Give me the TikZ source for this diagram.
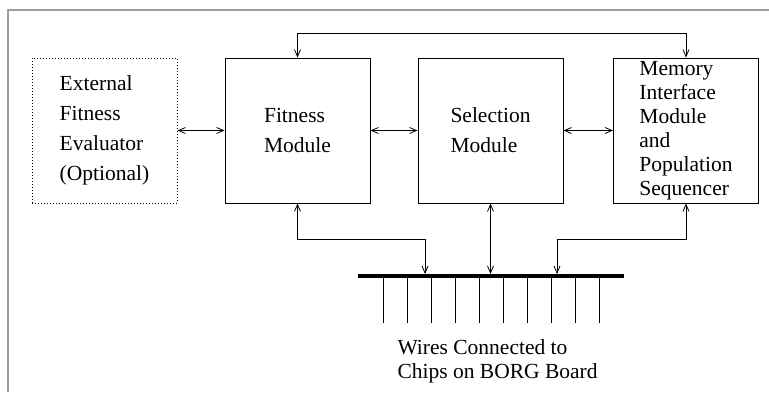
\documentclass[tikz,border=0pt]{standalone}
\usepackage{fontspec}
\setmainfont{Liberation Serif}
\usetikzlibrary{arrows.meta, positioning, calc}

\tikzset{
  module/.style={draw, line width=0.9pt, minimum width=145pt, minimum height=145pt,
    inner sep=0pt, align=left, font=\fontsize{21.5}{30}\selectfont},
  link/.style={line width=0.8pt,
    {Straight Barb[length=7pt,width=6pt]}-{Straight Barb[length=7pt,width=6pt]}},
  buswire/.style={line width=0.7pt},
}

\begin{document}
\begin{tikzpicture}[x=1pt,y=-1pt]
  \useasboundingbox (0,0) rectangle (769,392);
  % frame
  \draw[gray!75, line width=1.5pt] (8,392) -- (8,10) -- (769,10);

  \node[module, dash pattern=on 1pt off 2pt] (ext) at (104.5,130.5)
    {External\\Fitness\\Evaluator\\(Optional)};
  \node[module] (fit) at (297.5,130.5) {Fitness\\Module};
  \node[module] (sel) at (490.5,130.5) {Selection\\Module};
  \node[module, font=\fontsize{21.5}{24}\selectfont] (mem) at (686,130.5)
    {Memory\\Interface\\Module\\and\\Population\\Sequencer};

  \draw[link] (ext.east) -- (fit.west);
  \draw[link] (fit.east) -- (sel.west);
  \draw[link] (sel.east) -- (mem.west);
  \draw[link] (fit.north) -- ++(0,-24) -| (mem.north);

  % bus to the board
  \coordinate (busL) at (358,276);
  \coordinate (busR) at (624,276);
  \draw[line width=4pt] (busL) -- (busR);
  \foreach \i in {0,...,9}
    \draw[buswire] ($(busL)+(25+24*\i,0)$) -- ++(0,47);

  \coordinate (tapA) at (425,274);
  \coordinate (tapB) at (490.5,274);
  \coordinate (tapC) at (557,274);
  \draw[link] (fit.south) -- ++(0,36) -| (tapA);
  \draw[link] (sel.south) -- (tapB);
  \draw[link] (mem.south) -- ++(0,36) -| (tapC);

  \node[anchor=base west, align=left, font=\fontsize{21.5}{24}\selectfont] (wires)
    at (394,378) {Wires Connected to\\Chips on BORG Board};
\end{tikzpicture}
\end{document}
